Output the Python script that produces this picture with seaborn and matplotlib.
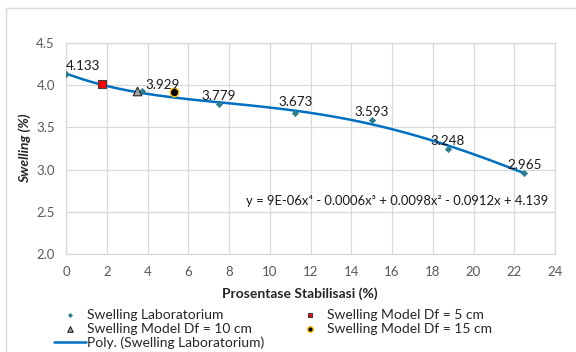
import numpy as np
import pandas as pd
import matplotlib.pyplot as plt
import seaborn as sns
from matplotlib.patches import Rectangle

# Data
lab_x = [0, 3.75, 7.5, 11.25, 15, 18.75, 22.5]
lab_y = [4.133, 3.929, 3.779, 3.673, 3.593, 3.248, 2.965]
df5_x, df5_y = [1.77], [4.01]
df10_x, df10_y = [3.48], [3.93]
df15_x, df15_y = [5.3], [3.917]
equation = "y = 9E-06x\u2074 - 0.0006x\u00b3 + 0.0098x\u00b2 - 0.0912x + 4.139"

lab = pd.DataFrame({"x": lab_x, "y": lab_y})

sns.set_theme(style="whitegrid")
plt.rcParams["font.family"] = ["Lato", "DejaVu Sans"]

fig = plt.figure(figsize=(5.76, 3.52), dpi=100)
ax = fig.add_axes([66 / 576, 1 - 254 / 352, (555 - 66) / 576, (254 - 43) / 352])

# chart-area border
fig.patches.append(Rectangle((6 / 576, -0.2), 1.2, 1.2 - 8 / 352, transform=fig.transFigure,
                             fill=False, edgecolor="#D9D9D9", linewidth=1.0, zorder=0))

# polynomial trendline (order 4) fitted to the lab data
sns.regplot(data=lab, x="x", y="y", order=4, ci=None, scatter=False, ax=ax,
            label="Poly. (Swelling Laboratorium)",
            line_kws={"color": "#0070C0", "linewidth": 1.8, "zorder": 2})

sns.scatterplot(data=lab, x="x", y="y", ax=ax, marker="D", s=10, color="#2E7D8C",
                edgecolor="#2E7D8C", linewidth=0.5, label="Swelling Laboratorium", zorder=3)
sns.scatterplot(x=df5_x, y=df5_y, ax=ax, marker="s", s=30, color="#FF0000",
                edgecolor="#404040", linewidth=0.8, label="Swelling Model Df = 5 cm", zorder=4)
sns.scatterplot(x=df10_x, y=df10_y, ax=ax, marker="^", s=38, color="#A5A5A5",
                edgecolor="#262626", linewidth=0.8, label="Swelling Model Df = 10 cm", zorder=4)
sns.scatterplot(x=df15_x, y=df15_y, ax=ax, marker="o", s=38, color="#000000",
                edgecolor="#FFC000", linewidth=1.0, label="Swelling Model Df = 15 cm", zorder=4)

# data labels
offsets = {0: (12, 6), 1: (14.5, 4.3), 3: (0, 7.5)}
for i, (x, y) in enumerate(zip(lab_x, lab_y)):
    dx, dy = offsets.get(i, (0, 5.5))
    ax.annotate(f"{y:.3f}", (x, y), xytext=(dx, dy), textcoords="offset points",
                ha="center", va="center", fontsize=9.7, color="#1a1a1a", zorder=5)

ax.text(23.66, 2.63, equation, ha="right", va="center", fontsize=9.4, color="#1a1a1a")

ax.set_xlim(0, 24)
ax.set_ylim(2.0, 4.5)
ax.set_xticks(np.arange(0, 25, 2))
ax.set_yticks(np.arange(2.0, 4.51, 0.5))
ax.set_yticklabels([f"{v:.1f}" for v in np.arange(2.0, 4.51, 0.5)])
ax.tick_params(axis="both", length=0, labelsize=9.5, labelcolor="#595959")
ax.tick_params(axis="x", pad=9)
ax.tick_params(axis="y", pad=8)
ax.grid(True, color="#D9D9D9", linewidth=0.9)
for sp in ax.spines.values():
    sp.set_visible(True)
    sp.set_color("#D9D9D9")
    sp.set_linewidth(0.9)
ax.set_xlabel("")
ax.set_ylabel("Swelling (%)", fontsize=10, fontweight="bold", fontstyle="italic",
              color="#262626", labelpad=4)
fig.text(300 / 576, 1 - 294 / 352, "Prosentase Stabilisasi (%)", ha="center", va="center",
         fontsize=10, fontweight="bold", color="#262626")

# legend: two columns, row-wise order like the reference
handles, labels = ax.get_legend_handles_labels()
names = ["Swelling Laboratorium", "Swelling Model Df = 10 cm", "Poly. (Swelling Laboratorium)",
         "Swelling Model Df = 5 cm", "Swelling Model Df = 15 cm"]
order = [labels.index(n) for n in names]
ax.legend([handles[i] for i in order], [labels[i] for i in order], ncol=2,
          loc="upper left", bbox_to_anchor=(54 / 576, 1 - 309 / 352),
          bbox_transform=fig.transFigure, frameon=False, fontsize=10,
          borderpad=0, borderaxespad=0, handlelength=2.3, handletextpad=0.05,
          labelspacing=0.12, columnspacing=2.2, markerscale=0.65, labelcolor="#262626")

fig.savefig("out.png", dpi=100)
